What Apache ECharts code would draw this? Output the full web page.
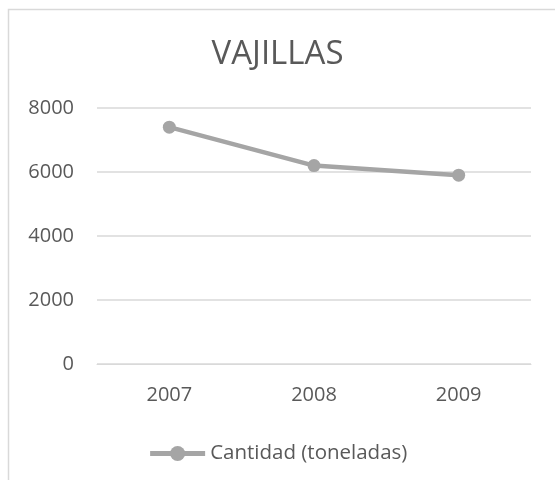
<!DOCTYPE html>
<html><head><meta charset="utf-8">
<script src="https://cdn.jsdelivr.net/npm/echarts@6/dist/echarts.min.js"></script>
<style>html,body{margin:0;padding:0;background:#fff}#c{width:555px;height:480px}</style>
</head><body><div id="c"></div>
<script>
const categories = ['2007', '2008', '2009'];
const cantidad = [7400, 6200, 5900];
const seriesName = 'Cantidad (toneladas)';
const titleText = 'VAJILLAS';

const chart = echarts.init(document.getElementById('c'), null, {renderer: 'canvas'});
chart.setOption({
  animation: false,
  backgroundColor: '#fff',
  textStyle: {fontFamily: 'Open Sans, sans-serif'},
  graphic: [{type: 'rect', shape: {x: 8.5, y: 9.5, width: 600, height: 500}, style: {fill: 'none', stroke: '#d9d9d9', lineWidth: 1.5}}],
  title: {text: titleText, left: 'center', top: 33, textStyle: {fontSize: 33, fontWeight: 'normal', color: '#595959', fontFamily: 'Open Sans, sans-serif'}},
  grid: {left: 97, right: 24, top: 108, bottom: 116},
  legend: {bottom: 11, left: 'center', itemWidth: 55, itemHeight: 19, itemGap: 4,
    textStyle: {fontSize: 20.5, color: '#595959', padding: [0, 0, 0, 0]},
    data: [{name: seriesName, lineStyle: {width: 5, color: '#a5a5a5'}, itemStyle: {color: '#a5a5a5'}}]},
  xAxis: {type: 'category', data: categories, boundaryGap: true,
    axisLine: {lineStyle: {color: '#d9d9d9'}}, axisTick: {show: false},
    axisLabel: {fontSize: 20, color: '#595959', margin: 21}},
  yAxis: {type: 'value', min: 0, max: 8000, interval: 2000,
    axisLine: {show: false}, axisTick: {show: false},
    splitLine: {lineStyle: {color: '#d9d9d9', width: 1.5}},
    axisLabel: {fontSize: 20, color: '#595959', margin: 23, formatter: v => String(v)}},
  series: [{name: seriesName, type: 'line', data: cantidad, symbol: 'circle', symbolSize: 13,
    lineStyle: {color: '#a5a5a5', width: 4.5}, itemStyle: {color: '#a5a5a5'}}]
});
</script></body></html>
